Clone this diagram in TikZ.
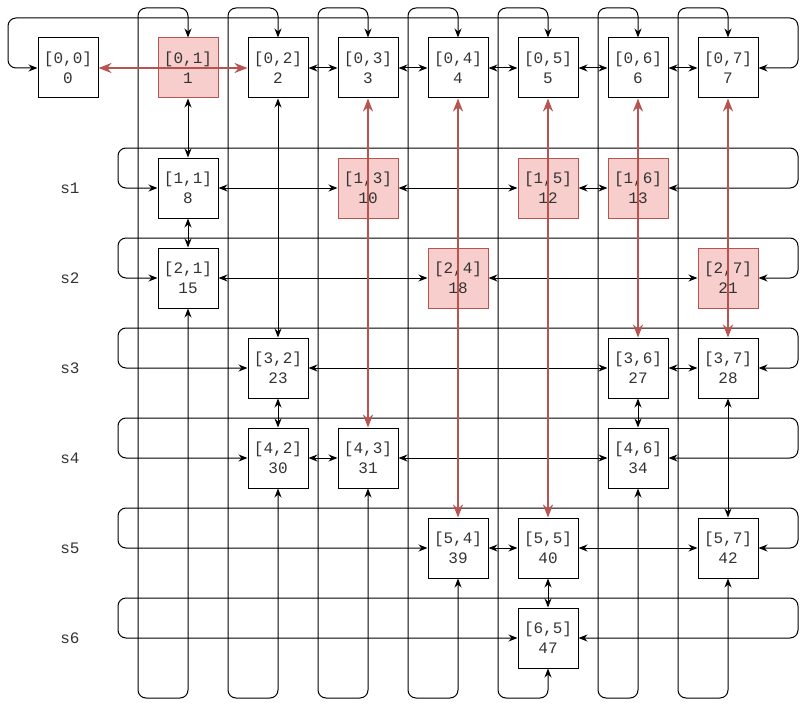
\documentclass[tikz,border=0pt]{standalone}
\usepackage{fontspec}
\usetikzlibrary{arrows.meta}
\newfontfamily\gridfont{Liberation Mono}
\definecolor{hotfill}{HTML}{F8CECC}
\definecolor{hotline}{HTML}{B85450}
\begin{document}
\begin{tikzpicture}[x=1pt,y=-1pt,
    font=\gridfont\fontsize{16}{20}\selectfont,
    box/.style={draw,line width=1pt,minimum size=60pt,inner sep=0pt,align=center,text=black!80},
    hot/.style={box,draw=hotline,fill=hotfill},
    tag/.style={text=black!80}]
      \useasboundingbox (0,0) rectangle (809,709);
      \draw
        (68,68) node[box] (0){[0,0]\\0}
        (188,68) node[hot] (1){[0,1]\\1}
        (278,68) node[box] (2){[0,2]\\2}
        (368,68) node[box] (3){[0,3]\\3}
        (458,68) node[box] (4){[0,4]\\4}
        (548,68) node[box] (5){[0,5]\\5}
        (638,68) node[box] (6){[0,6]\\6}
        (728,68) node[box] (7){[0,7]\\7}
        (188,188) node[box] (8){[1,1]\\8}
        (368,188) node[hot] (10){[1,3]\\10}
        (548,188) node[hot] (12){[1,5]\\12}
        (638,188) node[hot] (13){[1,6]\\13}
        (188,278) node[box] (15){[2,1]\\15}
        (458,278) node[hot] (18){[2,4]\\18}
        (728,278) node[hot] (21){[2,7]\\21}
        (278,368) node[box] (23){[3,2]\\23}
        (638,368) node[box] (27){[3,6]\\27}
        (728,368) node[box] (28){[3,7]\\28}
        (278,458) node[box] (30){[4,2]\\30}
        (368,458) node[box] (31){[4,3]\\31}
        (638,458) node[box] (34){[4,6]\\34}
        (458,548) node[box] (39){[5,4]\\39}
        (548,548) node[box] (40){[5,5]\\40}
        (728,548) node[box] (42){[5,7]\\42}
        (548,638) node[box] (47){[6,5]\\47};
      \draw
        (70,188) node[tag] (s1){s1}
        (70,278) node[tag] (s2){s2}
        (70,368) node[tag] (s3){s3}
        (70,458) node[tag] (s4){s4}
        (70,548) node[tag] (s5){s5}
        (70,638) node[tag] (s6){s6};
      \begin{scope}[line width=1pt,{Stealth[length=9pt,width=7pt]}-{Stealth[length=9pt,width=7pt]},rounded corners=8pt]
        \draw (0.west) -| (8,18) -| (798,68) -- (7.east);
        \draw (8.west) -| (118,148) -| (798,188) -- (13.east);
        \draw (15.west) -| (118,238) -| (798,278) -- (21.east);
        \draw (23.west) -| (118,328) -| (798,368) -- (28.east);
        \draw (30.west) -| (118,418) -| (798,458) -- (34.east);
        \draw (39.west) -| (118,508) -| (798,548) -- (42.east);
        \draw (47.west) -| (118,598) -| (798,638) -- (47.east);
        \draw (1.north) |- (138,8) |- (188,698) -- (15.south);
        \draw (2.north) |- (228,8) |- (278,698) -- (30.south);
        \draw (3.north) |- (318,8) |- (368,698) -- (31.south);
        \draw (4.north) |- (408,8) |- (458,698) -- (39.south);
        \draw (5.north) |- (498,8) |- (548,698) -- (47.south);
        \draw (6.north) |- (598,8) |- (638,698) -- (34.south);
        \draw (7.north) |- (678,8) |- (728,698) -- (42.south);
        \draw (2) to (3);
        \draw (3) to (4);
        \draw (4) to (5);
        \draw (5) to (6);
        \draw (6) to (7);
        \draw (8) to (10);
        \draw (10) to (12);
        \draw (12) to (13);
        \draw (15) to (18);
        \draw (18) to (21);
        \draw (23) to (27);
        \draw (27) to (28);
        \draw (30) to (31);
        \draw (31) to (34);
        \draw (39) to (40);
        \draw (40) to (42);
        \draw (1) to (8);
        \draw (8) to (15);
        \draw (2) to (23);
        \draw (23) to (30);
        \draw (27) to (34);
        \draw (28) to (42);
        \draw (40) to (47);
      \end{scope}
      \begin{scope}[draw=hotline,line width=2pt,{Stealth[length=13pt,width=10pt]}-{Stealth[length=13pt,width=10pt]}]
        \draw (0) to (2);
        \draw (3) to (31);
        \draw (4) to (39);
        \draw (5) to (40);
        \draw (6) to (27);
        \draw (7) to (28);
      \end{scope}
    \end{tikzpicture}
\end{document}
